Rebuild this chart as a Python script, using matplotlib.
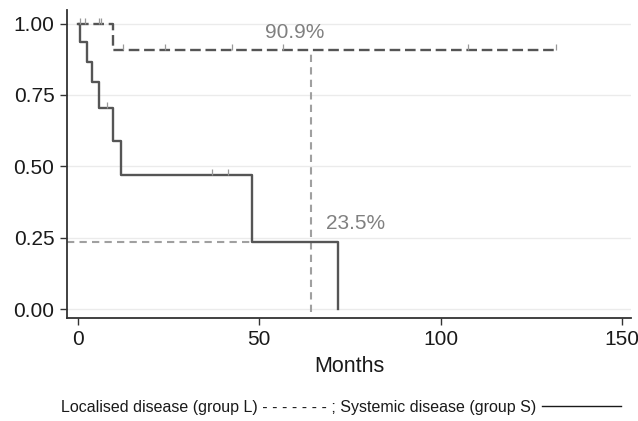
import matplotlib
matplotlib.use("Agg")
import matplotlib.pyplot as plt
from matplotlib.lines import Line2D

plt.rcParams['font.family'] = ['Liberation Sans', 'DejaVu Sans']

# Systemic disease (group S), solid curve: event times and survival after each step
sys_times = [0, 0.7, 2.4, 3.8, 5.9, 9.6, 11.8, 47.9, 71.7]
sys_surv = [1.0, 0.936, 0.866, 0.794, 0.704, 0.587, 0.471, 0.235, 0.0]
sys_cens_t = [7.9, 36.9, 41.5]
sys_cens_s = [0.704, 0.471, 0.471]

# Localised disease (group L), dashed curve
loc_times = [0, 9.6, 131.8]
loc_surv = [1.0, 0.909, 0.909]
loc_cens_t = [0.7, 1.9, 5.9, 6.5, 12.5, 24.0, 42.4, 56.6, 107.6, 131.8]
loc_cens_s = [1.0, 1.0, 1.0, 1.0, 0.909, 0.909, 0.909, 0.909, 0.909, 0.909]

# reference lines and labels
median_t = 64.3
end_loc = 0.909
end_sys = 0.235
sys_drop_t = 47.9
labels = ["90.9%", "23.5%"]

fig = plt.figure(figsize=(6.38, 4.21), dpi=100)
ax = fig.add_axes([0.105, 0.245, 0.884, 0.731])

for y in [0, 0.25, 0.5, 0.75, 1.0]:
    ax.axhline(y, color='#ebebeb', lw=1.0, zorder=0)

# reference dashed lines
ax.plot([median_t, median_t], [-0.01, end_loc], color='#a0a0a0', lw=1.5,
        dashes=(3.5, 2.5), zorder=2)
ax.plot([-3, sys_drop_t], [end_sys, end_sys], color='#a0a0a0', lw=1.5,
        dashes=(3.5, 2.5), zorder=2)

# survival curves
ax.step(sys_times, sys_surv, where='post', color='#555555', lw=1.7, zorder=3)
ax.step(loc_times, loc_surv, where='post', color='#555555', lw=1.7,
        dashes=(4.5, 2), zorder=3)

up_tick = [(0, 0), (0, 1)]
ax.plot(sys_cens_t, sys_cens_s, ls='none', marker=up_tick, markersize=9,
        mec='#999999', mew=0.9, zorder=4)
ax.plot(loc_cens_t, loc_cens_s, ls='none', marker=up_tick, markersize=9,
        mec='#999999', mew=0.9, zorder=4)

ax.text(51.6, 0.967, labels[0], color='#808080', fontsize=15, va='center')
ax.text(68.4, 0.30, labels[1], color='#808080', fontsize=15, va='center')

ax.set_xlim(-3, 152.5)
ax.set_ylim(-0.031, 1.047)
ax.set_xticks([0, 50, 100, 150])
ax.set_yticks([0, 0.25, 0.5, 0.75, 1.0])
ax.set_yticklabels(["0.00", "0.25", "0.50", "0.75", "1.00"])
ax.tick_params(labelsize=15, length=5, width=1.0, color='#333333', pad=4,
               labelcolor='#1a1a1a')
for s in ['top', 'right']:
    ax.spines[s].set_visible(False)
for s in ['left', 'bottom']:
    ax.spines[s].set_color('#333333')
    ax.spines[s].set_linewidth(1.3)
ax.set_xlabel("Months", fontsize=15.5, labelpad=5, color='#1a1a1a')

leg = fig.text(0.096, 0.031, "Localised disease (group L) - - - - - - - ; Systemic disease (group S) ",
               fontsize=11.5, va='center', ha='left', color='#1a1a1a')
fig.canvas.draw()
bb = leg.get_window_extent().transformed(fig.transFigure.inverted())
fig.add_artist(Line2D([bb.x1 + 0.002, bb.x1 + 0.125], [0.035, 0.035],
                      transform=fig.transFigure, color='#1a1a1a', lw=1.0))

fig.savefig("out.png", dpi=100)
